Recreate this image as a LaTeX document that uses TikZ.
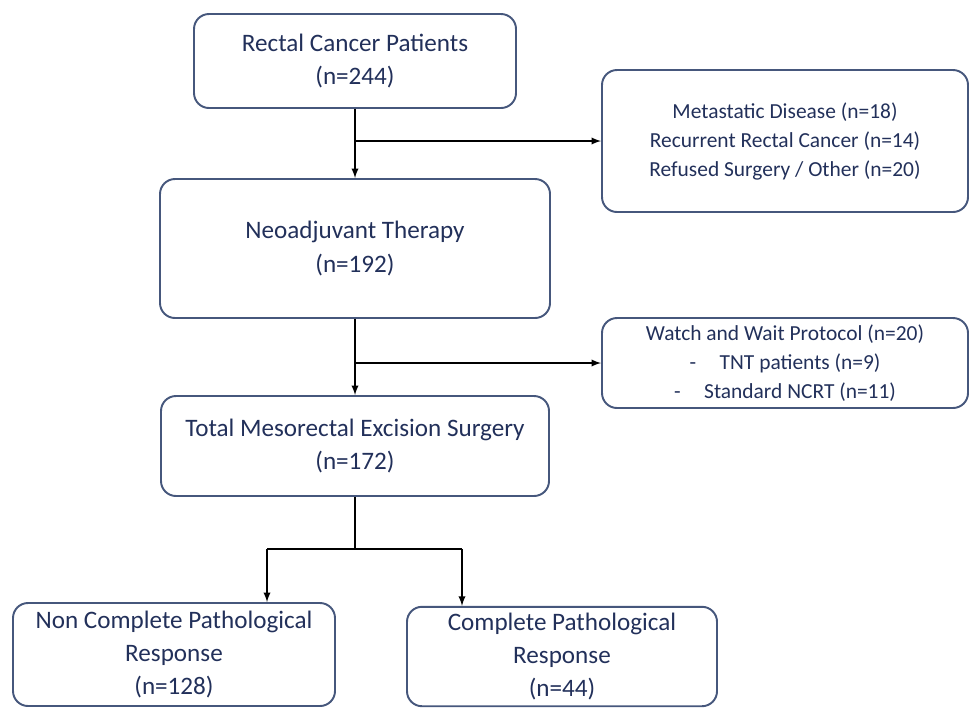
\documentclass[tikz,border=0pt]{standalone}
\usepackage{fontspec}
\setmainfont{Carlito}
\usetikzlibrary{positioning}
\tikzset{>=latex}
\definecolor{boxline}{HTML}{46577C}
\definecolor{boxtext}{HTML}{22305A}

\begin{document}
\begin{tikzpicture}[
    box/.style={rectangle, rounded corners=0.3cm, draw=boxline, line width=1.1pt,
      text=boxtext, align=center, font=\fontsize{14.3}{19}\selectfont},
    sidebox/.style={box, font=\fontsize{12.2}{16.5}\selectfont},
    flow/.style={draw, line width=0.85pt, ->}
  ]
      \useasboundingbox (0,0) rectangle (19.4,-14.16);
      \node[box, minimum width=6.44cm, minimum height=1.88cm] (patients) at (7.1,-1.22) {Rectal Cancer Patients\\(n=244)};
      \node[box, below of=patients, node distance=3.75cm, minimum width=7.8cm, minimum height=2.78cm] (neo) {Neoadjuvant Therapy\\(n=192)};
      \node[box, below of=neo, node distance=3.95cm, minimum width=7.76cm, minimum height=2cm] (tme) {Total Mesorectal Excision Surgery\\(n=172)};
      \node[sidebox, right of=patients, node distance=8.6cm, yshift=-1.6cm, minimum width=7.32cm, minimum height=2.84cm] (excluded) {Metastatic Disease (n=18)\\Recurrent Rectal Cancer (n=14)\\Refused Surgery / Other (n=20)};
      \node[sidebox, below of=excluded, node distance=4.44cm, minimum width=7.32cm, minimum height=1.8cm] (watch) {Watch and Wait Protocol (n=20)\\-\hspace{1.1em}TNT patients (n=9)\hspace*{1.3em}\\-\hspace{1.1em}Standard NCRT (n=11)};
      \node[box, below of=tme, node distance=4.17cm, xshift=-3.62cm, minimum width=6.44cm, minimum height=2.06cm] (noncpr) {Non Complete Pathological\\Response\\(n=128)};
      \node[box, right of=noncpr, node distance=7.76cm, yshift=-0.04cm, minimum width=6.2cm, minimum height=1.98cm] (cpr) {Complete Pathological\\Response\\(n=44)};
      % split points
      \coordinate (fork) at ([yshift=-1.04cm]tme.south);
      \coordinate (forkl) at ([xshift=-1.76cm]fork);
      \coordinate (forkr) at ([xshift=2.14cm]fork);
      \draw[flow] (patients) -- (neo);
      \draw[flow] (neo.north |- excluded.west) -- (excluded.west);
      \draw[flow] (neo) -- (tme);
      \draw[flow] (tme.north |- watch.west) -- (watch.west);
      \draw[flow, -] (tme.south) -- (fork);
      \draw[flow, -] (forkl) -- (forkr);
      \draw[flow] (forkl) -- (forkl |- noncpr.north);
      \draw[flow] (forkr) -- (forkr |- cpr.north);
    \end{tikzpicture}
\end{document}
